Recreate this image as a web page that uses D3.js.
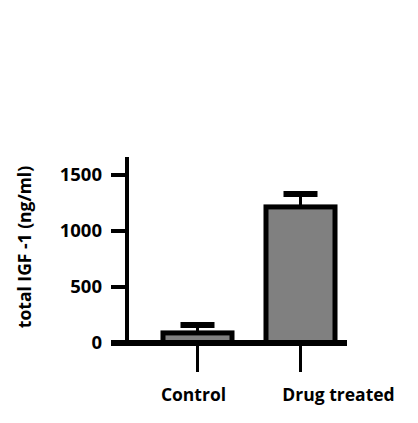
<!DOCTYPE html>
<html><head><meta charset="utf-8">
<script src="https://cdn.jsdelivr.net/npm/d3@7"></script>
<style>body{margin:0;background:#fff}text{font-family:"Open Sans",sans-serif;font-weight:bold}</style>
</head><body><div id="chart"></div>
<script>
const categories = ["Control", "Drug treated"];
const means = [90, 1215];
const errors = [70, 115];
const yTicks = [0, 500, 1000, 1500];

const svg = d3.select("#chart").append("svg").attr("width", 418).attr("height", 423);

const y = d3.scaleLinear().domain([0, 1500]).range([343, 175]);
const x = d3.scaleBand().domain(categories).range([129, 369]).paddingInner(0.33).paddingOuter(0.33);

// y axis
svg.append("line").attr("x1", 127).attr("x2", 127).attr("y1", 157).attr("y2", 345)
  .attr("stroke", "#000").attr("stroke-width", 4);
svg.selectAll(".yt").data(yTicks).enter().append("line")
  .attr("x1", 111).attr("x2", 127).attr("y1", d => y(d)).attr("y2", d => y(d))
  .attr("stroke", "#000").attr("stroke-width", 4);
svg.selectAll(".yl").data(yTicks).enter().append("text")
  .attr("x", 102).attr("y", d => y(d)).attr("dy", "0.35em").attr("text-anchor", "end")
  .attr("font-size", 18.5).text(d => d);

// bars
svg.selectAll(".bar").data(categories).enter().append("rect")
  .attr("x", d => x(d)).attr("width", x.bandwidth())
  .attr("y", (d, i) => y(means[i])).attr("height", (d, i) => y(0) - y(means[i]))
  .attr("fill", "#808080").attr("stroke", "#000").attr("stroke-width", 5);

// error bars
categories.forEach((c, i) => {
  const cx = x(c) + x.bandwidth() / 2;
  svg.append("line").attr("x1", cx).attr("x2", cx).attr("y1", y(means[i])).attr("y2", y(means[i] + errors[i]))
    .attr("stroke", "#000").attr("stroke-width", 3);
  svg.append("line").attr("x1", cx - 17).attr("x2", cx + 17)
    .attr("y1", y(means[i] + errors[i])).attr("y2", y(means[i] + errors[i]))
    .attr("stroke", "#000").attr("stroke-width", 6);
  // category tick
  svg.append("line").attr("x1", cx).attr("x2", cx).attr("y1", 343).attr("y2", 372)
    .attr("stroke", "#000").attr("stroke-width", 3);
  svg.append("text").attr("x", i === 0 ? cx - 4 : cx + 38).attr("y", 401).attr("text-anchor", "middle")
    .attr("font-size", 17.5).text(c);
});

// x axis
svg.append("line").attr("x1", 111).attr("x2", 347).attr("y1", 343).attr("y2", 343)
  .attr("stroke", "#000").attr("stroke-width", 6);

svg.append("text").attr("transform", "translate(31,247) rotate(-90)")
  .attr("text-anchor", "middle").attr("font-size", 17.5).text("total IGF -1 (ng/ml)");
</script></body></html>
